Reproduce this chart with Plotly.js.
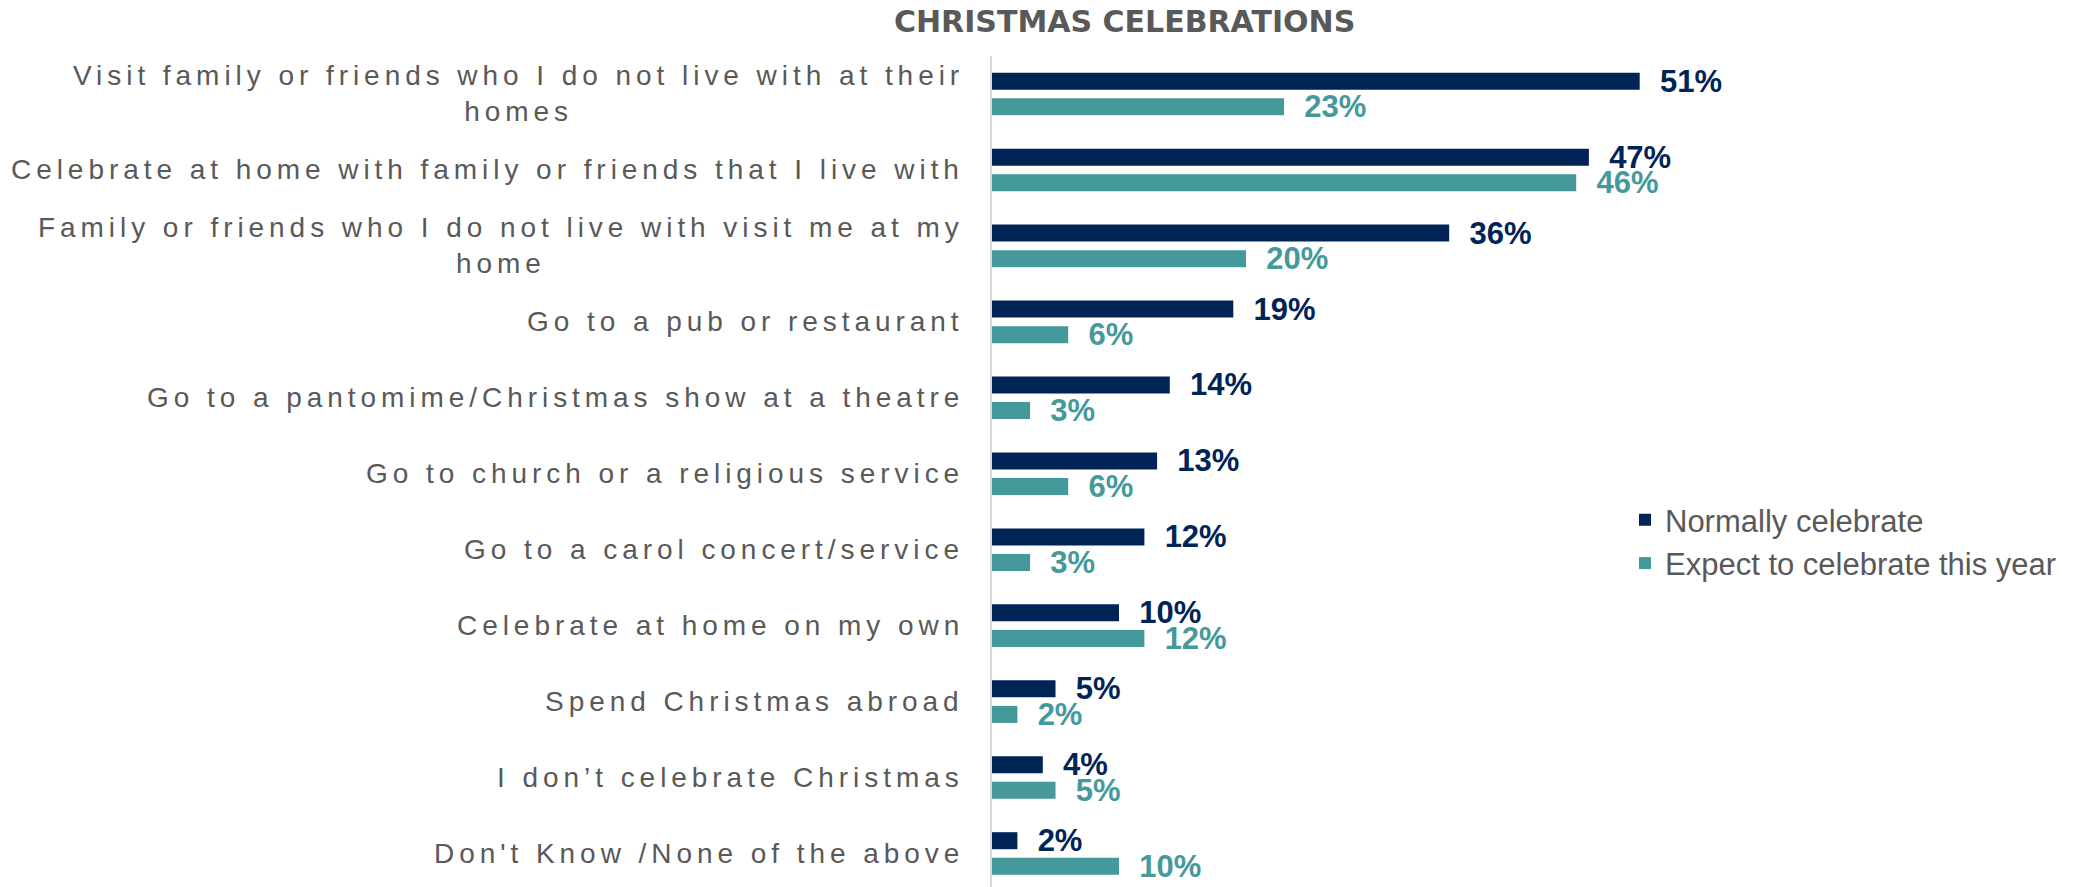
<!DOCTYPE html>
<html>
<head>
<meta charset="utf-8">
<script src="https://cdn.plot.ly/plotly-3.0.1.min.js"></script>
<style>
  html, body { margin: 0; padding: 0; background: #ffffff; }
  #chart { width: 2075px; height: 887px; }
  .annotation-text { letter-spacing: 4.95px; }
</style>
</head>
<body>
<div id="chart"></div>
<script>
const categories = [
  "Visit family or friends who I do not live with at their<br>homes",
  "Celebrate at home with family or friends that I live with",
  "Family or friends who I do not live with visit me at my<br>home",
  "Go to a pub or restaurant",
  "Go to a pantomime/Christmas show at a theatre",
  "Go to church or a religious service",
  "Go to a carol concert/service",
  "Celebrate at home on my own",
  "Spend Christmas abroad",
  "I don\u2019t celebrate Christmas",
  "Don't Know /None of the above"
];
const normallyCelebrate = [51, 47, 36, 19, 14, 13, 12, 10, 5, 4, 2];
const expectThisYear = [23, 46, 20, 6, 3, 6, 3, 12, 2, 5, 10];
const seriesNames = ["Normally celebrate", "Expect to celebrate this year"];
const chartTitle = "CHRISTMAS CELEBRATIONS";

const navy = "#002456";
const teal = "#45999A";
const grey = "#595959";

const barText = {family: "Liberation Sans, Arial, sans-serif", size: 31, weight: 700};

const traces = [
  {
    type: "bar", orientation: "h", name: seriesNames[0], legendgroup: "a",
    y: categories, x: normallyCelebrate,
    marker: {color: navy},
    texttemplate: "\u00a0\u00a0%{x}%", textposition: "outside",
    textfont: Object.assign({color: navy}, barText),
    constraintext: "none", cliponaxis: false, hoverinfo: "skip"
  },
  {
    type: "bar", orientation: "h", name: seriesNames[1], legendgroup: "b",
    y: categories, x: expectThisYear,
    marker: {color: teal},
    texttemplate: "\u00a0\u00a0%{x}%", textposition: "outside",
    textfont: Object.assign({color: teal}, barText),
    constraintext: "none", cliponaxis: false, hoverinfo: "skip"
  }
];

const annotations = categories.map(c => ({
  text: c, xref: "paper", yref: "y", x: -0.034, y: c,
  xanchor: "right", yanchor: "middle", align: "center",
  showarrow: false,
  font: {family: "Liberation Sans, Arial, sans-serif", size: 28, color: grey}
}));

const layout = {
  width: 2075, height: 887,
  margin: {l: 992, r: 321, t: 55.5, b: 0, pad: 0},
  paper_bgcolor: "#ffffff", plot_bgcolor: "#ffffff",
  barmode: "group", bargap: 0.326, bargroupgap: 0.336,
  title: {
    text: "<b>" + chartTitle + "</b>",
    x: 0.542, xanchor: "center", y: 0.976, yanchor: "middle",
    font: {family: "DejaVu Sans, Verdana, sans-serif", size: 30, color: grey}
  },
  xaxis: {range: [0, 60], visible: false, showgrid: false, zeroline: false, fixedrange: true},
  yaxis: {
    type: "category", range: [10.441, -0.5],
    showticklabels: false, ticks: "",
    showline: true, linecolor: "#D9D9D9", linewidth: 2,
    showgrid: false, zeroline: false, fixedrange: true
  },
  legend: {
    x: 0.8307, xanchor: "left", y: 0.474, yanchor: "top",
    traceorder: "normal", tracegroupgap: 9, bgcolor: "rgba(0,0,0,0)",
    font: {family: "Liberation Sans, Arial, sans-serif", size: 31, color: grey}
  },
  showlegend: true,
  annotations: annotations
};

Plotly.newPlot("chart", traces, layout, {displayModeBar: false, staticPlot: true});
</script>
</body>
</html>
